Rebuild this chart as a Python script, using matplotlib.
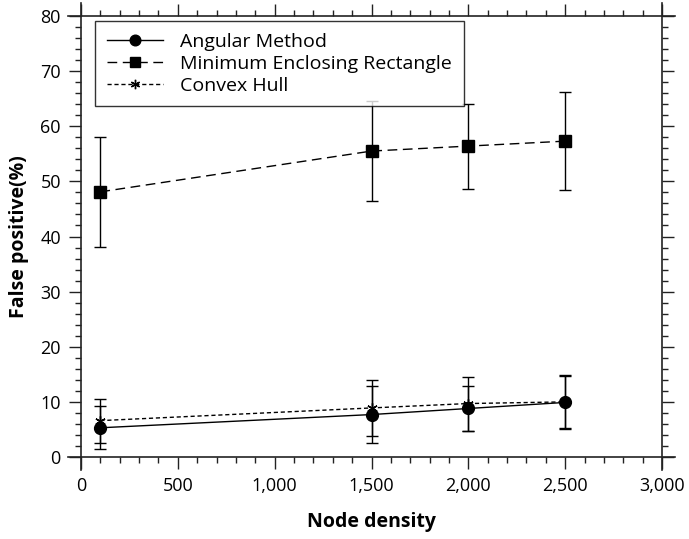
import matplotlib
matplotlib.use("Agg")
import matplotlib.pyplot as plt
from matplotlib.lines import Line2D
from matplotlib.ticker import MultipleLocator, FuncFormatter

# Datos
densidad = [100, 1500, 2000, 2500]

angular = [5.3, 7.7, 8.8, 9.9]
angular_err = [3.9, 5.1, 4.0, 4.8]

mer = [48.1, 55.5, 56.4, 57.3]
mer_err = [10.0, 9.0, 7.7, 8.9]

convex = [6.6, 8.9, 9.7, 10.0]
convex_err = [4.0, 5.0, 4.9, 4.8]

etiquetas = ["Angular Method", "Minimum Enclosing Rectangle", "Convex Hull"]

plt.rcParams["font.family"] = ["Open Sans", "DejaVu Sans"]

fig = plt.figure(figsize=(6.89, 5.39), dpi=100)
ax = fig.add_axes([81 / 689, 1 - 457 / 539, 581 / 689, 441 / 539])

estilos = [
    dict(marker="o", markersize=8.5, linestyle="-"),
    dict(marker="s", markersize=8, linestyle=(0, (7, 4))),
    dict(marker=(6, 2, 0), markersize=7.5, markeredgewidth=1.0, linestyle=(0, (3, 2))),
]
series = [(angular, angular_err), (mer, mer_err), (convex, convex_err)]

for (y, err), st in zip(series, estilos):
    ax.errorbar(densidad, y, yerr=err, color="black", ecolor="black",
                elinewidth=1.0, capsize=4.3, capthick=1.0, linewidth=1.0, **st)

ax.set_xlim(0, 3000)
ax.set_ylim(0, 80)
ax.xaxis.set_major_locator(MultipleLocator(500))
ax.xaxis.set_minor_locator(MultipleLocator(100))
ax.yaxis.set_major_locator(MultipleLocator(10))
ax.yaxis.set_minor_locator(MultipleLocator(2))
ax.xaxis.set_major_formatter(FuncFormatter(lambda v, p: f"{int(v):,}"))

ax.tick_params(which="both", direction="out", top=True, right=True,
               labeltop=False, labelright=False, width=1.0, labelsize=13,
               color="#222222")
ax.tick_params(which="major", length=8.5, pad=6)
ax.tick_params(which="minor", length=4.5)

# Ejes que se cruzan en las esquinas
for s in ax.spines.values():
    s.set_visible(False)
dx = 13 / 581
dy = 13 / 441
for xs, ys in [([-dx, 1 + dx], [0, 0]), ([-dx, 1 + dx], [1, 1]),
               ([0, 0], [-dy, 1 + dy]), ([1, 1], [-dy, 1 + dy])]:
    ax.plot(xs, ys, transform=ax.transAxes, color="#222222", linewidth=1.2,
            clip_on=False)

ax.set_xlabel("Node density", fontsize=14, fontweight="bold", labelpad=12)
ax.set_ylabel("False positive(%)", fontsize=14, fontweight="bold", labelpad=8)

# Leyenda sin barras de error
handles = [Line2D([], [], color="black", linewidth=1.0,
                  **{**st, "markersize": st["markersize"] * 0.9}) for st in estilos]
leg = ax.legend(handles, etiquetas, loc="upper left",
                bbox_to_anchor=(0.024, 0.988), fontsize=14, frameon=True,
                fancybox=False, handlelength=2.9, borderpad=0.6,
                labelspacing=0.2, handletextpad=0.9, borderaxespad=0)
leg.get_frame().set_edgecolor("black")
leg.get_frame().set_linewidth(1.0)

fig.savefig("out.png", dpi=100)
